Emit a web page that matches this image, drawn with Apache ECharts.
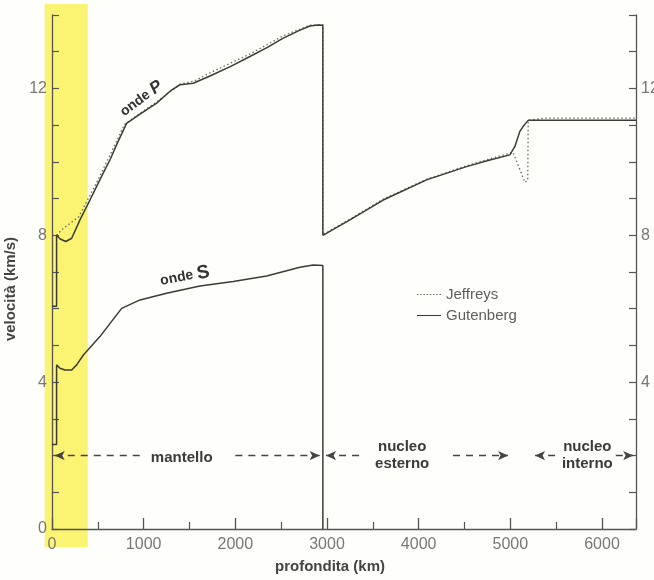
<!DOCTYPE html>
<html>
<head>
<meta charset="utf-8">
<script src="https://cdn.jsdelivr.net/npm/echarts@6/dist/echarts.min.js"></script>
<style>
html,body{margin:0;padding:0;background:#fefefa;}
#chart{width:654px;height:580px;}
</style>
</head>
<body>
<div id="chart"></div>
<script>
// depth (km) vs velocity (km/s)
const pGutenberg = [[0,6.07],[50,6.07],[50,8.0],[90,7.9],[150,7.83],[215,7.92],[305,8.42],[414,8.96],[487,9.33],[560,9.7],[632,10.05],[720,10.55],[814,11.05],[960,11.3],[1142,11.6],[1300,11.95],[1396,12.1],[1541,12.14],[1723,12.34],[1950,12.6],[2159,12.87],[2350,13.12],[2523,13.37],[2700,13.58],[2813,13.7],[2900,13.73],[2955,13.72],[2955,8.0],[3250,8.42],[3613,8.96],[4086,9.51],[4522,9.87],[4777,10.05],[4995,10.19],[5050,10.42],[5104,10.83],[5150,11.0],[5195,11.13],[6371,11.13]];
const sGutenberg = [[0,2.3],[50,2.3],[50,4.47],[87,4.38],[142,4.33],[215,4.33],[269,4.47],[342,4.74],[523,5.24],[640,5.62],[760,6.01],[960,6.24],[1250,6.42],[1614,6.62],[1977,6.74],[2341,6.89],[2705,7.13],[2850,7.19],[2955,7.18],[2955,0]];
const pJeffreys = [[50,8.0],[105,8.15],[290,8.5],[480,9.4],[620,10.12],[790,11.02],[960,11.32],[1140,11.63],[1400,12.12],[1550,12.2],[1720,12.42],[2160,12.94],[2520,13.43],[2810,13.72],[2955,13.74],[2955,8.02],[3250,8.44],[3610,8.98],[4090,9.53],[4520,9.89],[4800,10.1],[5030,10.26],[5160,9.44],[5190,9.5],[5195,11.13],[5380,11.19],[6371,11.19]];
const xTicks = [0,1000,2000,3000,4000,5000,6000];
const yLabels = [0,4,8,12];
const regions = [
  {name:'mantello', text:'mantello', left:[30,960], right:[2000,2920], labelAt:[1415,1.93]},
  {name:'esterno', text:'nucleo\nesterno', left:[2990,3390], right:[4375,4975], labelAt:[3820,2.0]},
  {name:'interno', text:'nucleo\ninterno', left:[5270,5505], right:[6150,6340], labelAt:[5840,2.0]}
];
const arrowY = 2.0;
const highlightX = [-80, 390];
const highlightY = [14.3, -0.5];

const ink = '#3c3c34';
const font = 'Liberation Sans';

const markLineData = [];
const markPointData = [];
regions.forEach(r => {
  markLineData.push([{coord:[r.left[0],arrowY],symbol:'arrow'},{coord:[r.left[1],arrowY],symbol:'none'}]);
  markLineData.push([{coord:[r.right[0],arrowY],symbol:'none'},{coord:[r.right[1],arrowY],symbol:'arrow'}]);
  markPointData.push({coord:r.labelAt, value:r.text});
});

const dottedIcon = 'path://' + Array.from({length:8}, (_, i) => `M${i*3},0h1.4v1h-1.4z`).join(' ');
const solidIcon = 'path://M0,0h22.4v1h-22.4z';

const chart = echarts.init(document.getElementById('chart'), null, {renderer:'canvas'});
chart.setOption({
  backgroundColor:'#fefefa',
  animation:false,
  grid:{left:52, right:18, top:15, bottom:51, containLabel:false, outerBoundsMode:'none'},
  legend:{
    data:[{name:'Jeffreys', icon:dottedIcon},{name:'Gutenberg', icon:solidIcon}],
    orient:'vertical', left:412, top:282,
    itemWidth:24, itemHeight:1.5, itemGap:6,
    textStyle:{fontFamily:font, fontSize:15, color:'#5e5e5e'}
  },
  xAxis:{
    type:'value', min:0, max:6371, interval:1000,
    name:'profondita (km)', nameLocation:'middle', nameGap:30,
    nameTextStyle:{fontFamily:font, fontSize:15, fontWeight:'bold', color:'#444', padding:[0,28,0,0]},
    axisLine:{lineStyle:{color:'#555', width:1.3}},
    axisTick:{inside:true, length:11, lineStyle:{color:'#555', width:1.3}},
    minorTick:{show:true, splitNumber:2, length:7, lineStyle:{color:'#555', width:1.2}},
    axisLabel:{fontFamily:font, fontSize:16, color:'#777', margin:8,
      formatter:v => xTicks.includes(v) ? String(v) : ''},
    splitLine:{show:false}
  },
  yAxis:[{
    type:'value', min:0, max:14, interval:1, position:'left',
    name:'velocità (km/s)', nameLocation:'middle', nameGap:33,
    nameTextStyle:{fontFamily:font, fontSize:15, fontWeight:'bold', color:'#444', padding:[0,34,0,0]},
    axisLine:{show:true, lineStyle:{color:'#555', width:1.3}},
    axisTick:{inside:true, length:7, lineStyle:{color:'#555', width:1.2}},
    axisLabel:{fontFamily:font, fontSize:16, color:'#777', margin:5,
      formatter:v => yLabels.includes(v) ? String(v) : ''},
    splitLine:{show:false}
  },{
    type:'value', min:0, max:14, interval:1, position:'right',
    axisLine:{show:true, lineStyle:{color:'#555', width:1.3}},
    axisTick:{inside:true, length:7, lineStyle:{color:'#555', width:1.2}},
    axisLabel:{fontFamily:font, fontSize:16, color:'#777', margin:5,
      formatter:v => (yLabels.includes(v) && v>0) ? String(v) : ''},
    splitLine:{show:false}
  }],
  series:[
    {
      name:'Jeffreys', type:'line', data:pJeffreys, showSymbol:false, symbol:'none',
      itemStyle:{color:'#6a6a5e'},
      lineStyle:{color:'#6a6a5e', width:1.3, type:[1.5,2.5]}, z:2
    },
    {
      name:'Gutenberg', type:'line', data:pGutenberg, showSymbol:false, symbol:'none',
      itemStyle:{color:ink},
      lineStyle:{color:ink, width:1.5}, z:3,
      markPoint:{symbol:'circle', symbolSize:1, silent:true, itemStyle:{color:'rgba(0,0,0,0)'},
        data:[{coord:[975,11.72], value:'onde P'}],
        label:{show:true, position:'inside', rotate:37, fontFamily:font, fontWeight:'bold', fontSize:14, color:'#333',
          formatter:'onde {p|P}', rich:{p:{fontFamily:font, fontStyle:'italic', fontSize:17, color:'#333'}}}
      }
    },
    {
      name:'Gutenberg', type:'line', data:sGutenberg, showSymbol:false, symbol:'none',
      itemStyle:{color:ink},
      lineStyle:{color:ink, width:1.5}, z:3,
      markPoint:{symbol:'circle', symbolSize:1, silent:true, itemStyle:{color:'rgba(0,0,0,0)'},
        data:[{coord:[1450,6.88], value:'onde S'}],
        label:{show:true, position:'inside', rotate:11, fontFamily:font, fontWeight:'bold', fontSize:14, color:'#333',
          formatter:'onde {s|S}', rich:{s:{fontFamily:font, fontSize:19, color:'#333'}}}
      }
    },
    {
      name:'regions', type:'line', data:[], silent:true,
      markLine:{silent:true, symbolSize:[7,10],
        lineStyle:{color:'#444', width:1.3, type:[7,6]},
        label:{show:false},
        data:markLineData},
      markPoint:{symbol:'circle', symbolSize:1, silent:true, itemStyle:{color:'rgba(0,0,0,0)'}, data:markPointData,
        label:{show:true, position:'inside', fontFamily:font, fontWeight:'bold', fontSize:15, lineHeight:17, color:'#3a3a3a',
          formatter:p => p.value}}
    }
  ]
});

// yellow highlighter band, placed through the chart's own scales
const p1 = chart.convertToPixel({gridIndex:0}, [highlightX[0], highlightY[0]]);
const p2 = chart.convertToPixel({gridIndex:0}, [highlightX[1], highlightY[1]]);
chart.setOption({
  graphic:[{
    type:'rect', z:-1, silent:true,
    shape:{x:p1[0], y:p1[1], width:p2[0]-p1[0], height:p2[1]-p1[1]},
    style:{fill:'rgba(250,242,90,0.85)'}
  }]
});
</script>
</body>
</html>
